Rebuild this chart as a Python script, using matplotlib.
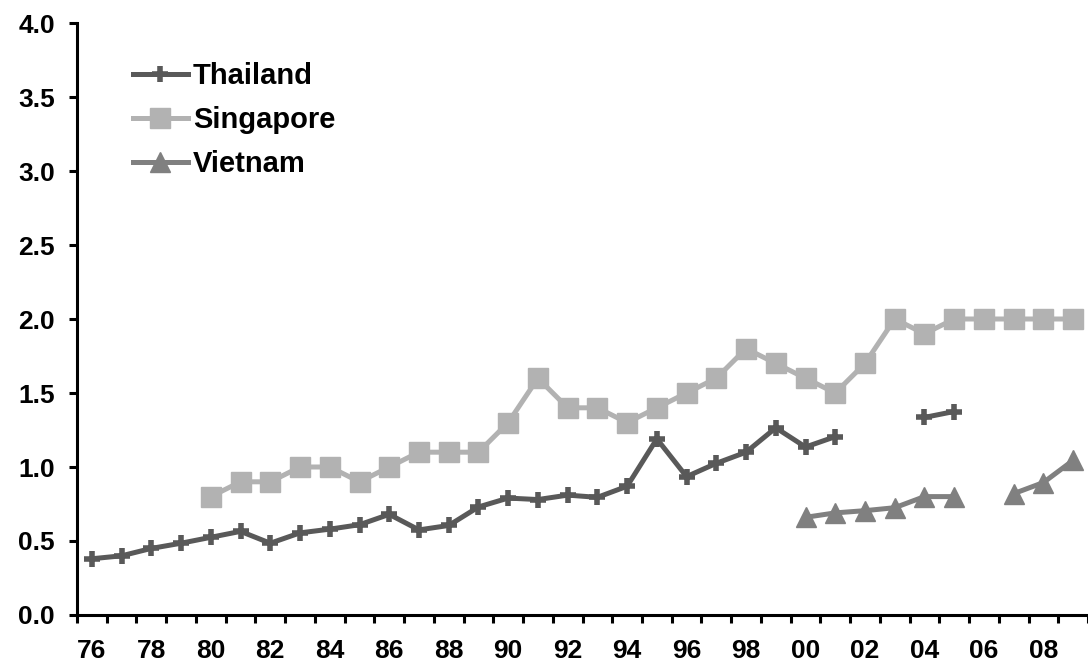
import numpy as np
import matplotlib.pyplot as plt

plt.rcParams['font.family'] = ['Liberation Sans', 'DejaVu Sans']
plt.rcParams['font.weight'] = 'bold'

# datos (1976 - 2009)
years = list(range(1976, 2010))
nan = np.nan

thailand = [0.38, 0.40, 0.45, 0.485, 0.525, 0.565, 0.485, 0.555, 0.58, 0.61,
            0.68, 0.575, 0.605, 0.73, 0.79, 0.78, 0.81, 0.795, 0.87, 1.19,
            0.935, 1.025, 1.10, 1.265, 1.135, 1.205, nan, nan, 1.335, 1.375,
            nan, nan, nan, nan]

singapore = [nan, nan, nan, nan, 0.8, 0.9, 0.9, 1.0, 1.0, 0.9,
             1.0, 1.1, 1.1, 1.1, 1.3, 1.6, 1.4, 1.4, 1.3, 1.4,
             1.5, 1.6, 1.8, 1.7, 1.6, 1.5, 1.7, 2.0, 1.9, 2.0,
             2.0, 2.0, 2.0, 2.0]

vietnam = [nan] * 24 + [0.66, 0.69, 0.705, 0.725, 0.80, 0.80, nan, 0.82, 0.895, 1.045]

x = np.arange(len(years))

fig = plt.figure(figsize=(10.88, 6.63), dpi=100)
ax = fig.add_axes([0.0708, 0.0724, 0.9292, 0.8929])

ax.plot(x, thailand, color='#595959', lw=3.6, marker='+', ms=11, mew=4,
        label='Thailand', zorder=3)
ax.plot(x, singapore, color='#b2b2b2', lw=3.6, marker='s', ms=14,
        label='Singapore', zorder=2)
ax.plot(x, vietnam, color='#808080', lw=3.6, marker='^', ms=15,
        label='Vietnam', zorder=2)

ax.set_xlim(-0.5, 33.1)
ax.set_ylim(0, 4.0)

# ejes estilo Excel
for s in ['top', 'right']:
    ax.spines[s].set_visible(False)
for s in ['left', 'bottom']:
    ax.spines[s].set_linewidth(2.2)

ax.set_yticks(np.arange(0, 4.01, 0.5))
ax.set_yticklabels([f'{v:.1f}' for v in np.arange(0, 4.01, 0.5)])
ax.tick_params(axis='y', direction='out', length=6, width=2.2, labelsize=19, pad=10)

ax.set_xticks(np.arange(-0.5, len(years), 1.0))
ax.set_xticklabels([])
ax.tick_params(axis='x', which='major', direction='out', length=6, width=2.2)
ax.set_xticks(x[::2], minor=True)
ax.set_xticklabels([f'{y % 100:02d}' for y in years[::2]], minor=True)
ax.tick_params(axis='x', which='minor', length=0, labelsize=19, pad=17)

leg = ax.legend(loc='upper left', bbox_to_anchor=(0.122, 0.9065),
                bbox_transform=fig.transFigure, frameon=False, fontsize=21,
                handlelength=1.9, handletextpad=0.17, labelspacing=0.55,
                borderpad=0, borderaxespad=0)

fig.savefig('out.png', dpi=100)
